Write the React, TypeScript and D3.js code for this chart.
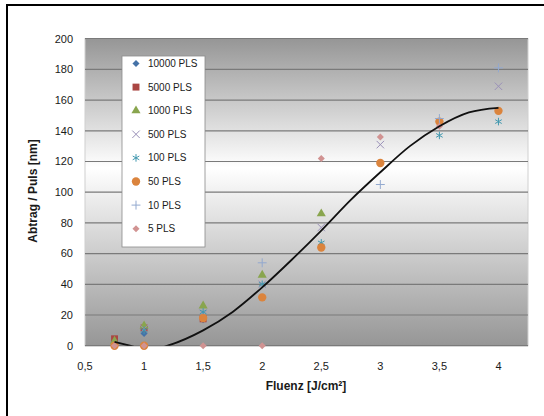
import React from 'react';
import * as d3 from 'd3';

// Fluenz in J/cm² (category positions on the x axis)
const fluence = [0.75, 1, 1.5, 2, 2.5, 3, 3.5, 4];

// Abtrag pro Puls in nm, one value per fluence (null = no measurement)
const pls10000 = [3, 8, 17, null, null, null, null, null];
const pls5000 = [4.5, 11.5, 17.5, null, null, null, null, null];
const pls1000 = [3, 13, 26, 46, 86, null, null, null];
const pls500 = [null, 11, 21, 40, 77, 131, null, 169];
const pls100 = [null, 10, 22, 40, 67, null, 137, 146];
const pls50 = [0, 0, 18, 31.5, 64, 119, 146, 153];
const pls10 = [null, null, null, 54, null, 105, 148, 181];
const pls5 = [0, 0, 0, 0, 122, 136, 143, null];

const seriesNames = ['10000 PLS', '5000 PLS', '1000 PLS', '500 PLS', '100 PLS', '50 PLS', '10 PLS', '5 PLS'];

// trendline
const trendX = [0.75, 0.88, 1.05, 1.2, 1.5, 1.75, 2, 2.25, 2.5, 2.75, 3, 3.25, 3.5, 3.75, 4];
const trendY = [2.5, 0, -3, 0, 10, 22, 38, 56, 75, 95, 113, 130, 143, 152, 155];

const yTicks = [0, 20, 40, 60, 80, 100, 120, 140, 160, 180, 200];
const xTicks = [0.5, 1, 1.5, 2, 2.5, 3, 3.5, 4];

const seriesData = [pls10000, pls5000, pls1000, pls500, pls100, pls50, pls10, pls5];
const colors = ['#4572A7', '#AA4643', '#89A54E', '#9a90b8', '#4198AF', '#DB843D', '#93A9CF', '#D19392'];
const shapes = [d3.symbolDiamond2, d3.symbolSquare, d3.symbolTriangle, d3.symbolX, d3.symbolAsterisk, d3.symbolCircle, d3.symbolPlus, d3.symbolDiamond2];
const sizes = [32, 48, 36, 38, 40, 55, 28, 32];
const filled = [true, true, true, false, false, true, false, true];

const W = 544, H = 416;
const left = 85, right = 528, top = 38.7, bottom = 345.7;

const x = d3.scaleLinear().domain([0.5, 4.25]).range([left, right]);
const y = d3.scaleLinear().domain([0, 200]).range([bottom, top]);

const fmt = (v: number) => String(v).replace('.', ',');

function Marker({ i, cx, cy }: { i: number; cx: number; cy: number }) {
  const d = d3.symbol().type(shapes[i]).size(sizes[i])() as string;
  return filled[i]
    ? <path d={d} transform={`translate(${cx},${cy})`} fill={colors[i]} />
    : <path d={d} transform={`translate(${cx},${cy})`} fill="none" stroke={colors[i]} strokeWidth={1} />;
}

export default function App() {
  const line = d3.line<number>()
    .x((_, i) => x(trendX[i]))
    .y(d => y(d))
    .curve(d3.curveMonotoneX);

  return (
    <svg width={W} height={H} style={{ display: 'block', position: 'absolute', left: 0, top: 0 }}
      fontFamily="'Liberation Sans', Arial, sans-serif">
      <defs>
        <linearGradient id="bg" x1="0" y1="0" x2="0" y2="1">
          <stop offset="0" stopColor="#969696" />
          <stop offset="0.42" stopColor="#ffffff" />
          <stop offset="1" stopColor="#969696" />
        </linearGradient>
        <clipPath id="plot">
          <rect x={left} y={top} width={right - left} height={bottom - top} />
        </clipPath>
      </defs>
      <rect width={W} height={H} fill="#fff" />
      <line x1={7} y1={5} x2={7} y2={H} stroke="#000" strokeWidth={2} />
      <line x1={6} y1={5} x2={W} y2={5} stroke="#000" strokeWidth={2} />

      <rect x={left} y={top} width={right - left} height={bottom - top} fill="url(#bg)" stroke="#d0d0d0" strokeWidth={1} />
      {yTicks.map(t => (
        <line key={t} x1={left} x2={right} y1={y(t)} y2={y(t)} stroke="#7a7a7a" strokeWidth={1.2} />
      ))}

      {yTicks.map(t => (
        <text key={t} x={73} y={y(t)} dy="0.35em" textAnchor="end" fontSize={11} fill="#1a1a1a">{t}</text>
      ))}
      {xTicks.map(t => (
        <text key={t} x={x(t)} y={370} textAnchor="middle" fontSize={11} fill="#1a1a1a">{fmt(t)}</text>
      ))}

      <text x={306} y={390} textAnchor="middle" fontSize={12} fontWeight="bold" fill="#1a1a1a">Fluenz [J/cm²]</text>
      <text transform="translate(37,191) rotate(-90)" textAnchor="middle" fontSize={12} fontWeight="bold" fill="#1a1a1a">Abtrag / Puls [nm]</text>

      <g>
        {seriesData.map((vals, i) => (
          <g key={i}>
            {vals.map((v, j) => v == null ? null : (
              <Marker key={j} i={i} cx={x(fluence[j])} cy={y(v)} />
            ))}
          </g>
        ))}
      </g>

      <path d={line(trendY) as string} fill="none" stroke="#111" strokeWidth={1.8} clipPath="url(#plot)" />

      <rect x={122} y={56} width={83} height={191} fill="#fff" stroke="#8a8a8a" strokeWidth={0.8} />
      {seriesNames.map((name, i) => (
        <g key={name}>
          <Marker i={i} cx={136} cy={63.5 + i * 23.6} />
          <text x={148} y={63.5 + i * 23.6} dy="0.35em" fontSize={10} fill="#1a1a1a">{name}</text>
        </g>
      ))}
    </svg>
  );
}
